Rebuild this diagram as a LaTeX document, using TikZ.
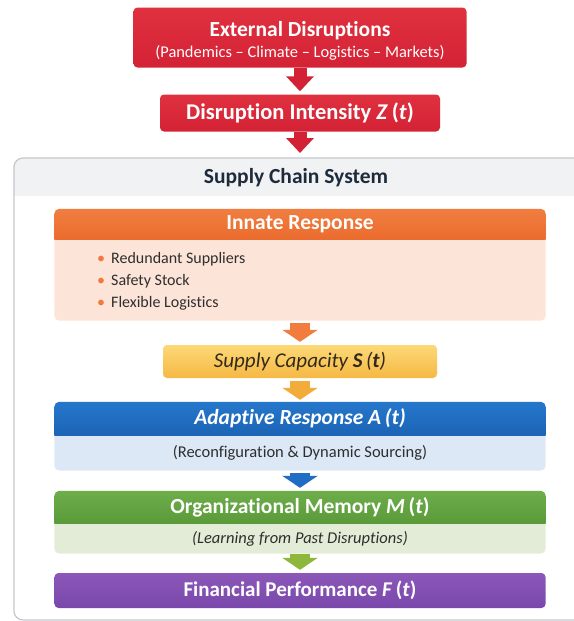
\documentclass[tikz,border=0pt]{standalone}
\usepackage{fontspec}
\setmainfont{Carlito}[Ligatures=NoCommon]
\usetikzlibrary{arrows.meta,calc}
\pgfdeclarelayer{background}
\pgfsetlayers{background,main}
\definecolor{redTop}{HTML}{E0313F}
\definecolor{redBot}{HTML}{D32235}
\definecolor{sysHead}{HTML}{F1F2F4}
\definecolor{sysBorder}{HTML}{C4C7CC}
\definecolor{navy}{HTML}{1E2B3C}
\definecolor{oraTop}{HTML}{F07E40}
\definecolor{oraBot}{HTML}{EA6C2E}
\definecolor{oraBody}{HTML}{FDE4D8}
\definecolor{oraDot}{HTML}{F07A3E}
\definecolor{oraArrow}{HTML}{F27B3E}
\definecolor{yelTop}{HTML}{FCD977}
\definecolor{yelBot}{HTML}{F6B844}
\definecolor{yelArrow}{HTML}{F3AC3A}
\definecolor{bluTop}{HTML}{2577CC}
\definecolor{bluBot}{HTML}{1C64B5}
\definecolor{bluBody}{HTML}{DCE8F6}
\definecolor{bluArrow}{HTML}{1F6DC4}
\definecolor{grnTop}{HTML}{6DAD4A}
\definecolor{grnBot}{HTML}{5B9A39}
\definecolor{grnBody}{HTML}{E2ECD6}
\definecolor{grnArrow}{HTML}{8DB83C}
\definecolor{purTop}{HTML}{8B58BA}
\definecolor{purBot}{HTML}{7A47AA}
\definecolor{txtDark}{HTML}{2E2E2E}
\definecolor{txtYel}{HTML}{33291A}
\begin{document}
\begin{tikzpicture}[x=1pt,y=-1pt,
  redbox/.style={top color=redTop, bottom color=redBot, rounded corners=4pt, text=white, inner sep=0pt, align=center},
  hdrbox/.style={minimum width=491pt, inner sep=0pt, text=white, font=\bfseries\fontsize{21.5}{23}\selectfont},
  bodybox/.style={minimum width=491pt, inner sep=0pt, anchor=north, text=txtDark, font=\fontsize{16.5}{19}\selectfont},
  thinarrow/.style={line width=13pt, draw=#1, -{Triangle[width=27pt,length=15pt,fill=#1]}},
  fatarrow/.style={line width=20pt, draw=#1, -{Triangle[width=35pt,length=12pt,fill=#1]}},
]
\useasboundingbox (0,0) rectangle (573,621);
\begin{pgfonlayer}{background}
  \fill[white] (0,0) rectangle (573,621);
  \begin{scope}
    \clip[rounded corners=9pt] (14,158) rectangle (590,620);
    \fill[white] (14,158) rectangle (590,620);
    \fill[sysHead] (14,158) rectangle (590,196);
  \end{scope}
  \draw[sysBorder, line width=1.2pt, rounded corners=9pt] (14,158) rectangle (590,620);
\end{pgfonlayer}

% top red boxes
\node[redbox, minimum width=333pt, minimum height=60pt] (ext) at (300,37.5)
  {{\bfseries\fontsize{21.5}{23}\selectfont\rule{0pt}{22pt}External Disruptions}\\[5pt]
   {\fontsize{16.4}{18}\selectfont (Pandemics – Climate – Logistics – Markets)}};
\node[redbox, minimum width=280pt, minimum height=37pt, font=\bfseries\fontsize{22.5}{24}\selectfont] (dis) at (300,113)
  {Disruption Intensity \textit{Z}\,(\textit{t})};
\coordinate (sysTop) at (300,157);

% system title
\node[text=navy, font=\bfseries\fontsize{21.5}{23}\selectfont] (sys) at (296,178) {Supply Chain System};

% innate response
\node[hdrbox, minimum height=30pt] (innH) at (300,224) {Innate Response};
\node[bodybox, minimum height=81pt] (innB) at (innH.south) {};
\node[anchor=north west, inner sep=0pt, align=left, text=txtDark, font=\fontsize{16}{22}\selectfont] (innL) at (97,252)
  {\textcolor{oraDot}{\textbullet}\hspace{6pt}Redundant Suppliers\\
   \textcolor{oraDot}{\textbullet}\hspace{6pt}Safety Stock\\
   \textcolor{oraDot}{\textbullet}\hspace{6pt}Flexible Logistics};

% supply capacity
\node[top color=yelTop, bottom color=yelBot, rounded corners=4pt, minimum width=274pt, minimum height=33pt, inner sep=0pt,
      text=txtYel, font=\itshape\fontsize{21}{23}\selectfont] (sup) at (300,361.5)
  {Supply Capacity \textbf{S}\,(\textbf{t})};

% adaptive response
\node[hdrbox, minimum height=33pt, font=\bfseries\itshape\fontsize{21.5}{23}\selectfont] (adaH) at (300,418.5) {Adaptive Response \textit{A}\,(\textit{t})};
\node[bodybox, minimum height=35pt] (adaB) at (adaH.south) {(Reconfiguration \& Dynamic Sourcing)};

% organizational memory
\node[hdrbox, minimum height=32pt] (memH) at (300,507) {Organizational Memory \textit{M}\,(\textit{t})};
\node[bodybox, minimum height=30pt, font=\itshape\fontsize{16.5}{19}\selectfont] (memB) at (memH.south) {(Learning from Past Disruptions)};

% financial performance
\node[top color=purTop, bottom color=purBot, rounded corners=4pt, minimum width=491pt, minimum height=35pt, inner sep=0pt,
      text=white, font=\bfseries\fontsize{21}{23}\selectfont] (fin) at (300,590.5)
  {Financial Performance \textit{F}\,(\textit{t})};

% two-part box backgrounds
\begin{pgfonlayer}{background}
  \begin{scope}
    \clip[rounded corners=5pt] (innH.north west) rectangle (innB.south east);
    \fill[oraBody] (innH.north west) rectangle (innB.south east);
    \shade[top color=oraTop, bottom color=oraBot] (innH.north west) rectangle (innH.south east);
  \end{scope}
  \begin{scope}
    \clip[rounded corners=5pt] (adaH.north west) rectangle (adaB.south east);
    \fill[bluBody] (adaH.north west) rectangle (adaB.south east);
    \shade[top color=bluTop, bottom color=bluBot] (adaH.north west) rectangle (adaH.south east);
  \end{scope}
  \begin{scope}
    \clip[rounded corners=5pt] (memH.north west) rectangle (memB.south east);
    \fill[grnBody] (memH.north west) rectangle (memB.south east);
    \shade[top color=grnTop, bottom color=grnBot] (memH.north west) rectangle (memH.south east);
  \end{scope}
\end{pgfonlayer}

% arrows
\draw[thinarrow=redBot, shorten >=3pt] (ext.south) -- (dis.north);
\draw[thinarrow=redBot, shorten >=4pt] (dis.south) -- (sysTop);
\draw[fatarrow=oraArrow, shorten <=2pt, shorten >=3pt] (innB.south) -- (sup.north);
\draw[fatarrow=yelArrow, shorten <=3pt, shorten >=2pt] (sup.south) -- (adaH.north);
\draw[fatarrow=bluArrow, shorten <=2pt, shorten >=3pt] (adaB.south) -- (memH.north);
\draw[fatarrow=grnArrow, shorten >=3pt] (memB.south) -- (fin.north);
\end{tikzpicture}
\end{document}
